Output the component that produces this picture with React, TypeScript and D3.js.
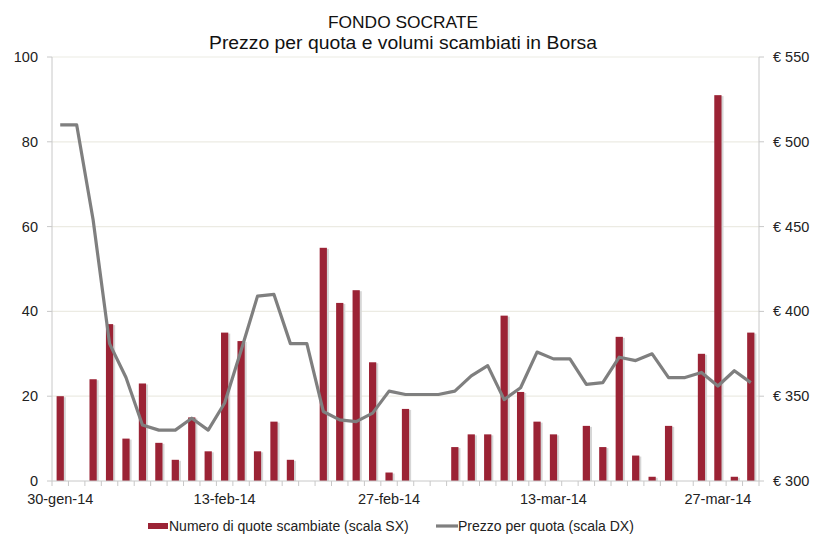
import React from 'react';
import * as d3 from 'd3';

// trading days 30-gen-14 .. 31-mar-14
const dates = [
  '30-gen-14', '31-gen-14',
  '03-feb-14', '04-feb-14', '05-feb-14', '06-feb-14', '07-feb-14',
  '10-feb-14', '11-feb-14', '12-feb-14', '13-feb-14', '14-feb-14',
  '17-feb-14', '18-feb-14', '19-feb-14', '20-feb-14', '21-feb-14',
  '24-feb-14', '25-feb-14', '26-feb-14', '27-feb-14', '28-feb-14',
  '03-mar-14', '04-mar-14', '05-mar-14', '06-mar-14', '07-mar-14',
  '10-mar-14', '11-mar-14', '12-mar-14', '13-mar-14', '14-mar-14',
  '17-mar-14', '18-mar-14', '19-mar-14', '20-mar-14', '21-mar-14',
  '24-mar-14', '25-mar-14', '26-mar-14', '27-mar-14', '28-mar-14',
  '31-mar-14',
];
const tickLabels = ['30-gen-14', '13-feb-14', '27-feb-14', '13-mar-14', '27-mar-14'];

const volumes = [
  20, 0, 24, 37, 10, 23, 9, 5, 15, 7,
  35, 33, 7, 14, 5, 0, 55, 42, 45, 28,
  2, 17, 0, 0, 8, 11, 11, 39, 21, 14,
  11, 0, 13, 8, 34, 6, 1, 13, 0, 30,
  91, 1, 35,
];

const prices = [
  510, 510, 454, 381, 361, 333, 330, 330, 337, 330,
  346, 377, 409, 410, 381, 381, 341, 336, 335, 340,
  353, 351, 351, 351, 353, 362, 368, 348, 355, 376,
  372, 372, 357, 358, 373, 371, 375, 361, 361, 364,
  356, 365, 358,
];

const leftTicks = [0, 20, 40, 60, 80, 100];
const rightTicks = [300, 350, 400, 450, 500, 550];

const W = 813;
const H = 536;
const m = { left: 52, right: 759, top: 57, bottom: 481 };
const font = '"Liberation Sans", Arial, sans-serif';
const barColor = '#9b2335';
const lineColor = '#7f7f7f';

export default function App() {
  const x = d3.scaleBand<number>()
    .domain(dates.map((_, i) => i))
    .range([m.left, m.right]);
  const yL = d3.scaleLinear().domain([0, 100]).range([m.bottom, m.top]);
  const yR = d3.scaleLinear().domain([300, 550]).range([m.bottom, m.top]);
  const bw = x.step() * 0.44;
  const cx = (i: number) => (x(i) as number) + x.bandwidth() / 2;

  const line = d3.line<number>()
    .x((_, i) => cx(i))
    .y(d => yR(d));

  return (
    <svg width={W} height={H} style={{ position: 'absolute', left: 0, top: 0 }}>
      <rect width={W} height={H} fill="#fff" />
      <text x={403} y={28} textAnchor="middle" fontFamily={font} fontSize={17} fill="#111"
        textLength={150} lengthAdjust="spacingAndGlyphs">FONDO SOCRATE</text>
      <text x={403} y={49} textAnchor="middle" fontFamily={font} fontSize={17.5} fill="#111"
        textLength={388} lengthAdjust="spacingAndGlyphs">Prezzo per quota e volumi scambiati in Borsa</text>

      {leftTicks.map(t => (
        <g key={'g' + t}>
          {t > 0 && <line x1={m.left} x2={m.right} y1={yL(t)} y2={yL(t)} stroke="#ecebe3" strokeWidth={1.2} />}
          <line x1={m.left - 5} x2={m.left} y1={yL(t)} y2={yL(t)} stroke="#c8c8c8" />
          <text x={38} y={yL(t) + 5} textAnchor="end" fontFamily={font} fontSize={14.5} fill="#222">{t}</text>
        </g>
      ))}
      {rightTicks.map(t => (
        <g key={'r' + t}>
          <line x1={m.right} x2={m.right + 5} y1={yR(t)} y2={yR(t)} stroke="#c8c8c8" />
          <text x={773} y={yR(t) + 5} fontFamily={font} fontSize={14.5} fill="#222">{'€ ' + t}</text>
        </g>
      ))}
      <line x1={m.left} x2={m.left} y1={m.top} y2={m.bottom} stroke="#c8c8c8" />
      <line x1={m.right} x2={m.right} y1={m.top} y2={m.bottom} stroke="#c8c8c8" />

      {volumes.map((v, i) => v > 0 && (
        <g key={'b' + i}>
          <rect x={cx(i) - bw / 2 + 2} y={yL(v) + 1} width={bw} height={yL(0) - yL(v) - 1} fill="#d6d6d6" />
          <rect x={cx(i) - bw / 2} y={yL(v)} width={bw} height={yL(0) - yL(v)} fill={barColor} />
        </g>
      ))}

      <line x1={m.left} x2={m.right} y1={m.bottom} y2={m.bottom} stroke="#c8c8c8" />
      {dates.map((_, i) => (
        <line key={'t' + i} x1={x(i) as number} x2={x(i) as number} y1={m.bottom} y2={m.bottom + 5} stroke="#c8c8c8" />
      ))}
      <line x1={m.right} x2={m.right} y1={m.bottom} y2={m.bottom + 5} stroke="#c8c8c8" />
      {tickLabels.map(l => {
        const i = dates.indexOf(l);
        return (
          <text key={l} x={cx(i)} y={504} textAnchor="middle" fontFamily={font} fontSize={14.5} fill="#222">{l}</text>
        );
      })}

      <path d={line(prices) || ''} fill="none" stroke={lineColor} strokeWidth={3.2} strokeLinejoin="round" />

      <rect x={148} y={523} width={20} height={6} fill={barColor} />
      <text x={169} y={531} fontFamily={font} fontSize={14} fill="#222">Numero di quote scambiate (scala SX)</text>
      <line x1={436} x2={458} y1={526} y2={526} stroke={lineColor} strokeWidth={3.2} />
      <text x={458} y={531} fontFamily={font} fontSize={14} fill="#222">Prezzo per quota (scala DX)</text>
    </svg>
  );
}
